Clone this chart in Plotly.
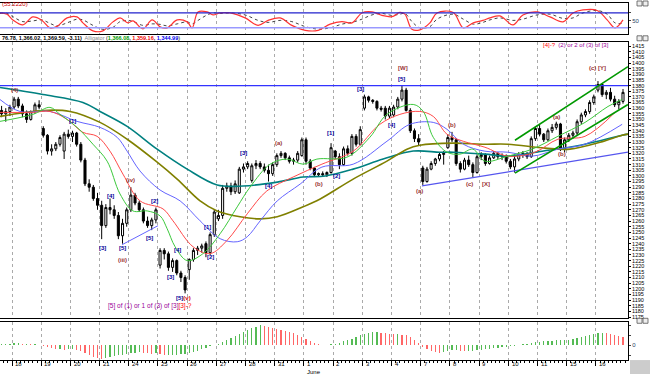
import plotly.graph_objects as go

# ---------------- data (hourly bars, index -3 .. 146, 7 bars per session) ----------------
opens = [1358,1355,1357,
 1361,1368,1362,1355,1350,1357,1363,
 1342,1336,1322,1324,1328,1322,1337,
 1335,1338,1328,1314,1293,1290,1280,
 1274,1256,1272,1270,1265,1247,1258,
 1270,1283,1276,1270,1260,1256,1261,
 1221,1234,1231,1219,1225,1214,1210,
 1217,1226,1234,1236,1240,1232,1248,
 1262,1265,1289,1291,1286,1285,1306,
 1308,1296,1309,1311,1308,1305,1302,
 1310,1318,1320,1316,1313,1314,1318,
 1332,1313,1307,1301,1302,1301,1303,
 1322,1317,1310,1324,1320,1335,1328,
 1360,1370,1367,1366,1360,1360,1353,
 1354,1361,1368,1376,1358,1340,1333,
 1307,1295,1306,1311,1315,1319,1325,
 1334,1332,1311,1306,1314,1310,1303,
 1317,1319,1311,1316,1320,1317,1318,
 1313,1308,1315,1319,1320,1317,1333,
 1342,1337,1332,1340,1343,1346,1324,
 1332,1336,1338,1348,1354,1357,1365,
 1376,1381,1372,1374,1368,1363,1366]
highs = [1362,1360,1363,
 1370,1370,1364,1358,1358,1365,1367,
 1344,1337,1328,1330,1336,1339,1341,
 1340,1339,1330,1316,1297,1292,1285,
 1278,1275,1280,1274,1268,1262,1272,
 1290,1285,1278,1272,1264,1263,1272,
 1236,1236,1233,1227,1226,1216,1212,
 1227,1236,1238,1240,1242,1250,1270,
 1270,1292,1294,1294,1296,1308,1311,
 1313,1311,1314,1313,1311,1310,1312,
 1320,1322,1321,1318,1316,1322,1334,
 1334,1315,1308,1303,1304,1304,1329,
 1323,1320,1326,1327,1337,1337,1344,
 1372,1371,1368,1367,1362,1362,1362,
 1363,1370,1380,1378,1360,1342,1337,
 1309,1308,1313,1316,1321,1322,1337,
 1339,1333,1313,1316,1318,1312,1319,
 1321,1320,1318,1322,1321,1320,1319,
 1315,1318,1321,1322,1321,1335,1344,
 1345,1338,1342,1346,1348,1347,1334,
 1338,1340,1350,1356,1359,1367,1372,
 1384,1382,1376,1378,1371,1368,1377]
lows = [1352,1348,1353,
 1359,1360,1352,1347,1349,1355,1359,
 1334,1319,1318,1322,1326,1315,1333,
 1330,1326,1312,1291,1286,1278,1270,
 1244,1254,1266,1262,1244,1240,1255,
 1268,1274,1268,1258,1254,1252,1258,
 1218,1226,1216,1215,1212,1206,1196,
 1208,1224,1230,1232,1228,1230,1246,
 1260,1262,1286,1283,1284,1284,1303,
 1306,1294,1306,1306,1303,1295,1300,
 1308,1316,1314,1311,1310,1312,1317,
 1310,1305,1299,1299,1300,1299,1302,
 1315,1306,1309,1318,1318,1326,1327,
 1358,1365,1364,1358,1357,1350,1351,
 1352,1359,1366,1357,1338,1330,1327,
 1292,1294,1305,1309,1313,1310,1324,
 1330,1309,1303,1305,1308,1299,1302,
 1314,1309,1310,1315,1315,1314,1311,
 1306,1303,1313,1316,1315,1316,1331,
 1335,1330,1331,1338,1341,1322,1321,
 1330,1333,1336,1346,1352,1355,1363,
 1374,1370,1368,1366,1361,1359,1364]
closes = [1355,1357,1361,
 1368,1362,1355,1350,1357,1363,1361,
 1336,1322,1324,1328,1334,1337,1335,
 1338,1328,1314,1293,1290,1280,1274,
 1256,1272,1270,1265,1247,1258,1270,
 1283,1276,1270,1260,1256,1261,1270,
 1234,1231,1219,1225,1214,1210,1199,
 1226,1234,1236,1238,1232,1248,1268,
 1265,1289,1291,1286,1293,1306,1308,
 1311,1309,1311,1308,1305,1302,1310,
 1318,1320,1316,1313,1314,1320,1332,
 1313,1307,1301,1302,1301,1303,1325,
 1317,1310,1324,1320,1335,1328,1341,
 1370,1367,1366,1360,1359,1353,1360,
 1361,1368,1376,1358,1340,1333,1330,
 1295,1306,1311,1315,1319,1320,1334,
 1332,1311,1306,1314,1310,1303,1317,
 1319,1311,1316,1320,1317,1318,1313,
 1308,1315,1319,1320,1317,1333,1342,
 1337,1332,1340,1343,1346,1324,1332,
 1336,1338,1348,1354,1357,1365,1370,
 1381,1372,1374,1368,1363,1366,1374]
first_bar = -3

day_labels = ['18','19','20','21','24','25','26','27','28','31','1','2','3','4','7','8','9','10','11','15','16']

# moving averages read at sample positions (bar index, price)
teal_x = [-2.9,7.4,17,21.1,27.6,34.8,42,49.2,55.4,63.6,69.8,75.1,81.8,89,96.2,102.6,105.8,113.4,118.9,127.1,135,146.3,147.7]
teal_y = [1378.3,1372.1,1365.1,1357.1,1343.9,1323.7,1306,1292,1291.1,1294.5,1299,1299.9,1306,1314.9,1322,1321,1321,1319.3,1317.5,1321.9,1326.3,1336,1337]
olive_x = [-2.9,7.4,13.9,21.1,27.6,34.8,39.6,45.1,49.2,54.7,59.5,63.6,69.8,73.9,81.8,89.9,94.7,97.8,105.8,113.4,118.9,127.8,133.8,141,146.3,147.7]
olive_y = [1352.7,1358,1357.1,1347.4,1332.5,1312.2,1297.2,1277.9,1269,1263.8,1262,1263.8,1272.6,1279.6,1297.2,1313.1,1323.7,1327.2,1329,1328.1,1328.1,1324.6,1323.7,1329.8,1336,1337]
jaw_x = [-2.9,1.9,9.1,15.6,21.1,25.2,27.6,30.7,35.5,40.3,45.1,49.9,54,56.4,59.5,63.6,69.1,74.3,81.8,89.9,95.4,101,104.3,108.2,113.4,118.9,124.7,130.9,137.4,146.3]
jaw_y = [1367.7,1357.1,1357.1,1348.3,1343,1334.2,1321.9,1304.3,1287.5,1277.9,1260.2,1244.4,1241.7,1246.1,1260.2,1277.9,1292.8,1307.8,1310.4,1330.7,1345.7,1347.4,1341.3,1328.1,1321.9,1321,1317.5,1323.7,1328.1,1345.7]
teeth_x = [-2.9,5,9.1,13.2,17,20.4,23.5,26.6,30.7,36.2,38.6,43.4,47.5,51.5,56.4,61.1,67.4,74.3,81.8,88.2,93,97.8,101,104.3,108.2,113.4,118.9,125.4,130.9,137.4,144.6]
teeth_y = [1356.3,1356.3,1357.1,1350.1,1338.6,1335.1,1321.9,1301.6,1277.9,1270.8,1260.2,1237.3,1231.2,1242.6,1266.4,1286.7,1299,1310.4,1321.9,1345.7,1354.5,1357.1,1352.7,1336.9,1330.7,1325.4,1317.5,1321,1332.5,1335.1,1356.3]
lips_x = [-2.9,5,9.1,11.5,15.6,19.4,22.8,25.9,29,32.4,35.5,37.2,39.1,42,45.8,49.9,54,57.1,61.9,66,69.8,73.1,80.3,85.8,89.9,96.2,98.6,101,104.3,107.4,110.5,113.4,118.9,124.7,130.9,137.4,142.9,146.3]
lips_y = [1348.3,1354.5,1360.7,1354.5,1343,1328.1,1313.1,1284,1269,1269,1264.6,1253.2,1237.3,1225,1231.2,1248.8,1272.6,1290.2,1310.4,1314.9,1310.4,1314.9,1316.6,1334.2,1354.5,1363.3,1357.1,1334.2,1321,1319.3,1323.7,1313.1,1317.5,1323.7,1335.1,1347.4,1361.5,1367.7]

# oscillator (top panel)
osc_x = [-2.9,-1.2,0.2,2.6,5,7.2,9.1,10.8,13.2,15.6,17,19.4,21.8,24.2,25.9,27.8,29,31.4,33.6,35.5,37.2,39.6,42,43.2,44.6,46.8,48.2,49.9,
         52.3,55.9,59,61.4,64.3,67.1,70.3,73.4,76.3,79.1,81.5,83.9,86.3,88.7,91.1,93,
         94.2,95.9,97.8,100.2,101.9,105.8,108.2,110.6,112.9,114.6,117,120.1,122.5,125.9,129,132.1,134.5,136.9,140.3,142.7,144.6,146.5]
osc_k = [80,75,52,32,64,50,20,26,60,64,40,8,8,44,60,40,48,16,52,24,20,52,44,20,84,84,72,80,
         80,60,30,50,60,30,10,10,35,45,40,80,84,70,65,82,
         75,14,12,40,80,82,20,40,50,60,68,32,72,84,64,44,80,92,90,52,20,52]
osc_d = [78,78,65,45,48,52,38,28,40,55,52,30,14,22,45,50,46,30,36,34,28,36,44,36,50,72,80,78,
         80,72,50,42,50,45,25,15,20,35,42,55,72,78,70,75,
         78,45,20,25,55,75,55,35,42,52,60,50,55,72,75,58,60,80,90,75,40,38]

# awesome oscillator histogram (one value per bar)
ao = [1,1.5,1.5,2,2,1.5,1.5,1,1,0.5,
      -1,-2,-3,-4,-4,-4.5,-4,
      -4,-5,-6,-8,-10,-12,-13,
      -14,-13,-12,-11,-10,-9.5,-9,
      -8,-7.5,-7,-7.5,-8,-8.5,-8,
      -9,-10,-10,-10,-9.5,-9,-9,
      -8,-7,-6,-4,-3,-1,0.5,
      1,3,5,7,9,11,13,
      15,17,18,20,19,18,17,
      16,15,14,13,12,10,8,
      6,4,2,1,0.5,0.5,1,
      1.5,2.5,4,5,6,8,10,
      11,12,13,13,12.5,12,11.5,
      11,11,10.5,10,8,5,2,
      -2,-4,-6,-7,-7.5,-7,-6,
      -5,-5,-5.5,-6,-6,-5.5,-5,
      -4.5,-4,-3.5,-3,-2.5,-2,-1.5,
      -1,-0.5,0.5,1,1.5,2,3,
      3.5,4,4,4.5,5,5,5,
      5.5,6.5,7.5,8.5,9.5,10.5,11.5,
      12,12.5,12,11.5,10.5,9.5,8.5]

# wave labels: (text, color, bar index, price)
NAVY = '#000099'
MAROON = '#993333'
labels = [
    ('(4)', MAROON, 0.7, 1376.5),
    ('[1]', NAVY, 14.6, 1348.3), ('[4]', NAVY, 23.7, 1282.3), ('[3]', NAVY, 21.8, 1236.4),
    ('[5]', NAVY, 26.6, 1236.4), ('(iii)', MAROON, 26.6, 1225.9), ('(iv)', MAROON, 28.5, 1296.3),
    ('[2]', NAVY, 34.1, 1277.9), ('[5]', NAVY, 32.9, 1245.3), ('[3]', NAVY, 37.9, 1210.9),
    ('[4]', NAVY, 39.6, 1234.7),
    ('[5]<span style="color:#cc0000">(v)</span>', NAVY, 41.2, 1191.5),
    ('[1]', NAVY, 46.8, 1254.9), ('[2]', NAVY, 47.5, 1228.5), ('[3]', NAVY, 55.4, 1320.1),
    ('[4]', NAVY, 61.4, 1291.1), ('(a)', MAROON, 63.8, 1328.9), ('(b)', MAROON, 73.6, 1292.8),
    ('[1]', NAVY, 76.3, 1337.8), ('[2]', NAVY, 77.9, 1299.9), ('[3]', NAVY, 83.5, 1377.4),
    ('[4]', NAVY, 90.9, 1344.8), ('[5]', NAVY, 93.5, 1386.2), ('[W]', MAROON, 93.8, 1395.9),
    ('(a)', MAROON, 97.8, 1286.7), ('(b)', MAROON, 105.5, 1344.8), ('(c)', MAROON, 109.6, 1292.8),
    ('[X]', MAROON, 113.7, 1292.8), ('(a)', MAROON, 130.5, 1351.9), ('(b)', MAROON, 131.9, 1319.3),
    ('(c) [Y]', MAROON, 140.5, 1395.9),
]

# trend lines: (x0, y0, x1, y1, color, width)
trendlines = [
    (-2.9, 1380, 147.7, 1380, '#3333ff', 1.2),
    (26.4, 1239.1, 35.0, 1255.9, '#6666ff', 1),
    (98.3, 1291.1, 147.7, 1321.0, '#5555ee', 1.2),
    (120.6, 1331.6, 147.7, 1396.8, '#009900', 1.6),
    (120.6, 1302.5, 147.7, 1363.3, '#009900', 1.6),
]

# ---------------- figure ----------------
FONT = 'Liberation Sans'
n = len(closes)
bar_x = [first_bar + k + 0.5 for k in range(n)]
XR = [-2.88, 147.7]
day_ticks = [7 * d for d in range(len(day_labels))]

fig = go.Figure()

fig.add_trace(go.Scatter(x=teal_x, y=teal_y, mode='lines', line=dict(color='#008080', width=1.6, shape='spline'), xaxis='x', yaxis='y'))
fig.add_trace(go.Scatter(x=olive_x, y=olive_y, mode='lines', line=dict(color='#808000', width=1.6, shape='spline'), xaxis='x', yaxis='y'))
fig.add_trace(go.Scatter(x=jaw_x, y=jaw_y, mode='lines', line=dict(color='#6464ff', width=1, shape='spline'), xaxis='x', yaxis='y'))
fig.add_trace(go.Scatter(x=teeth_x, y=teeth_y, mode='lines', line=dict(color='#ff4a4a', width=1, shape='spline'), xaxis='x', yaxis='y'))
fig.add_trace(go.Scatter(x=lips_x, y=lips_y, mode='lines', line=dict(color='#3cc83c', width=1, shape='spline'), xaxis='x', yaxis='y'))

fig.add_trace(go.Candlestick(x=bar_x, open=opens, high=highs, low=lows, close=closes,
                             increasing=dict(line=dict(color='black', width=1), fillcolor='white'),
                             decreasing=dict(line=dict(color='black', width=1), fillcolor='black'),
                             whiskerwidth=0, xaxis='x', yaxis='y', hoverinfo='skip'))

# oscillator
fig.add_trace(go.Scatter(x=osc_x, y=osc_d, mode='lines', line=dict(color='#444444', width=1, dash='dot', shape='spline'), xaxis='x2', yaxis='y2'))
fig.add_trace(go.Scatter(x=osc_x, y=osc_k, mode='lines', line=dict(color='#ff3333', width=1.2, shape='spline'), xaxis='x2', yaxis='y2'))

# AO histogram
ao_colors = []
for k, v in enumerate(ao):
    prev = ao[k - 1] if k > 0 else v
    ao_colors.append('#55bb55' if v >= prev else '#ff6666')
fig.add_trace(go.Bar(x=bar_x, y=ao, marker=dict(color=ao_colors, line=dict(width=0)), width=0.3, xaxis='x3', yaxis='y3'))

shapes = []
for x0, y0, x1, y1, c, w in trendlines:
    shapes.append(dict(type='line', xref='x', yref='y', x0=x0, y0=y0, x1=x1, y1=y1, line=dict(color=c, width=w)))
shapes.append(dict(type='line', xref='x2', yref='y2', x0=XR[0], x1=XR[1], y0=80, y1=80, line=dict(color='#2222cc', width=1.2)))
shapes.append(dict(type='line', xref='x2', yref='y2', x0=XR[0], x1=XR[1], y0=20, y1=20, line=dict(color='#9999ff', width=1.5)))
shapes.append(dict(type='rect', xref='paper', yref='paper', x0=630/628, x1=650/628, y0=0, y1=14/376, fillcolor='#cccccc', line=dict(width=0)))
# little window buttons at the right of each pane
for ytop in (1, 36, 320):
    for xl in (637, 643):
        shapes.append(dict(type='rect', xref='paper', yref='paper', x0=xl/628, x1=(xl + 5)/628,
                           y0=1 - (ytop + 5)/376, y1=1 - ytop/376, fillcolor='#eeeeee', line=dict(color='#555555', width=0.8)))

ann = []
for t, c, x, y in labels:
    ann.append(dict(text='<b>' + t + '</b>', x=x, y=y, xref='x', yref='y', showarrow=False, font=dict(size=6, color=c, family=FONT)))
for d, lab in zip(day_ticks, day_labels):
    ann.append(dict(text=lab, x=d + 0.3, y=1 - 366/376, xref='x3', yref='paper', xanchor='left', yanchor='middle', showarrow=False,
                    font=dict(size=6, color='black', family=FONT)))
ann.append(dict(text='June', x=70.3, y=1 - 373.5/376, xref='x3', yref='paper', xanchor='left', yanchor='middle', showarrow=False,
                font=dict(size=6, color='black', family=FONT)))
ann.append(dict(text='<b>76.78, 1,366.02, 1,369.59, -3.11)</b>  <span style="color:#888888">Alligator</span> (<b><span style="color:#009900">1,366.08</span>, <span style="color:#ee0000">1,359.16</span>, <span style="color:#0000ee">1,344.99</span></b>)',
                x=0, y=1 - 38/376, xref='paper', yref='paper', xanchor='left', yanchor='middle', showarrow=False,
                font=dict(size=5.5, color='black', family=FONT)))
ann.append(dict(text='(55.2220)', x=0, y=1 - 4/376, xref='paper', yref='paper', xanchor='left', yanchor='middle', showarrow=False,
                font=dict(size=6, color='#cc0000', family=FONT)))
ann.append(dict(text='<span style="color:#ff0000">[4]-?</span>  (2) or 2 of (3) of [3]', x=541/628, y=1 - 45/376, xref='paper', yref='paper',
                xanchor='left', yanchor='middle', showarrow=False, font=dict(size=6, color='#990099', family=FONT)))
ann.append(dict(text='[5] of (1) or 1 of (3) of [3]<span style="color:#ff0000">[3]-?</span>', x=106/628, y=1 - 308/376, xref='paper', yref='paper',
                xanchor='left', yanchor='middle', showarrow=False, font=dict(size=6.5, color='#990099', family=FONT)))

xa = dict(range=XR, tickvals=day_ticks, showticklabels=False, showgrid=True, gridcolor='#aaaaaa', griddash='dot', gridwidth=1,
          showline=True, linecolor='black', linewidth=1, mirror=True, zeroline=False, ticks='')
fig.update_layout(
    width=650, height=376, margin=dict(l=0, r=22, t=0, b=0),
    plot_bgcolor='white', paper_bgcolor='white', showlegend=False, bargap=0,
    xaxis=dict(xa, domain=[0, 1], anchor='y', rangeslider=dict(visible=False)),
    xaxis2=dict(xa, domain=[0, 1], anchor='y2'),
    xaxis3=dict(xa, domain=[0, 1], anchor='y3', ticks='outside', ticklen=5, tickcolor='black',
                minor=dict(dtick=1, tick0=0, ticklen=2, ticks='outside', tickcolor='black', showgrid=False)),
    yaxis=dict(domain=[1 - 320/376, 1 - 42/376], range=[1173.9, 1418.8], side='right', anchor='x', dtick=5, tick0=0,
               tickfont=dict(size=5.5, family=FONT, color='black'), ticks='outside', ticklen=2, tickcolor='black',
               showgrid=False, showline=True, linecolor='black', zeroline=False),
    yaxis2=dict(domain=[1 - 34/376, 1 - 3/376], range=[-4, 120], side='right', anchor='x2', tickvals=[20, 50, 80], ticktext=['', '50', ''],
                tickfont=dict(size=6, family=FONT), ticks='outside', ticklen=2, showgrid=False, showline=True, linecolor='black', zeroline=False),
    yaxis3=dict(domain=[1 - 362/376, 1 - 324/376], range=[-15, 23], side='right', anchor='x3', tickvals=[-10, 0, 10, 20], ticktext=['', '0', '', ''],
                tickfont=dict(size=6, family=FONT), ticks='outside', ticklen=2, showgrid=False, showline=True, linecolor='black', zeroline=False),
    shapes=shapes, annotations=ann,
)

fig.write_html('out.html', config={'displayModeBar': False, 'staticPlot': True},
               post_script="document.body.style.margin='0px';document.body.style.overflow='hidden';")
